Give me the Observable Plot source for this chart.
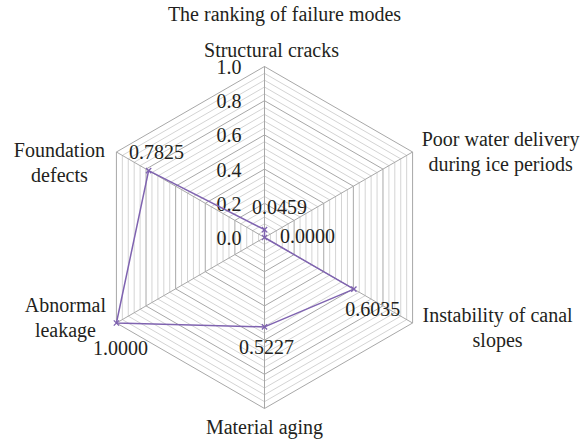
<!DOCTYPE html>
<html>
<head>
<meta charset="utf-8">
<script src="https://cdn.jsdelivr.net/npm/d3@7"></script>
<script src="https://cdn.jsdelivr.net/npm/@observablehq/plot@0.6"></script>
<style>
  html, body { margin: 0; padding: 0; background: #fff; }
  #chart svg { display: block; }
</style>
</head>
<body>
<div id="chart"></div>
<script>
// ---- data ----
const title = "The ranking of failure modes";
const categories = [
  "Structural cracks",
  "Poor water delivery\nduring ice periods",
  "Instability of canal\nslopes",
  "Material aging",
  "Abnormal\nleakage",
  "Foundation\ndefects"
];
const values = [0.0459, 0.0000, 0.6035, 0.5227, 1.0000, 0.7825];
const valueLabels = ["0.0459", "0.0000", "0.6035", "0.5227", "1.0000", "0.7825"];
const tickValues = [0, 0.2, 0.4, 0.6, 0.8, 1.0];
const tickLabels = ["0.0", "0.2", "0.4", "0.6", "0.8", "1.0"];
const gridStep = 0.04;

// ---- layout ----
const W = 584, H = 441;
const cx = 264, cy = 237, R = 171;
const n = categories.length;
const ang = i => Math.PI / 2 - i * 2 * Math.PI / n;
const px = (i, r) => r * Math.cos(ang(i));
const py = (i, r) => r * Math.sin(ang(i));

// grid rings
const levels = d3.range(1, Math.round(1 / gridStep) + 1).map(k => +(k * gridStep).toFixed(4));
const ringPts = [];
for (const lv of levels) {
  for (let i = 0; i <= n; i++) ringPts.push({lv, major: Math.abs(lv * 5 - Math.round(lv * 5)) < 1e-6, x: px(i % n, lv), y: py(i % n, lv)});
}
const spokes = categories.map((c, i) => ({x2: px(i, 1), y2: py(i, 1)}));
const series = values.map((v, i) => ({v, x: px(i, v), y: py(i, v), label: valueLabels[i]}));
const closed = [...series, series[0]];

// label offsets (pixels)
const catOff = [[7, -18], [88, -2], [85, 3], [0, 17], [-51, -7], [-57, 9]];
const valOff = [[15, -22], [43, -1], [19, 20], [2, 21], [4, 26], [8, -18]];
const ticks = tickValues.map((t, k) => ({x: 0, y: t, label: tickLabels[k]}));

const txt = "#231f20";
const purple = "#7f63b0";
const fs = 20;
const ff = "Liberation Serif";
const T = {fontSize: fs, fontFamily: ff, fill: txt};

const plot = Plot.plot({
  width: W, height: H,
  margin: 0,
  style: {background: "#fff", color: txt},
  x: {domain: [-cx / R, (W - cx) / R], axis: null},
  y: {domain: [-(H - cy) / R, cy / R], axis: null},
  marks: [
    Plot.line(ringPts.filter(d => !d.major), {x: "x", y: "y", z: "lv", stroke: "#d4d4d4", strokeWidth: 1}),
    Plot.line(ringPts.filter(d => d.major), {x: "x", y: "y", z: "lv", stroke: "#a8a8a8", strokeWidth: 1}),
    Plot.link(spokes, {x1: 0, y1: 0, x2: "x2", y2: "y2", stroke: "#a8a8a8", strokeWidth: 1}),
    Plot.text(ticks, {x: "x", y: "y", text: "label", textAnchor: "end", dx: -23, dy: 1, ...T}),
    Plot.line(closed, {x: "x", y: "y", stroke: purple, strokeWidth: 1.5}),
    Plot.dot(series, {x: "x", y: "y", symbol: "times", r: 2.5, stroke: purple, strokeWidth: 1.3}),
    ...series.map((d, i) => Plot.text([d], {x: "x", y: "y", text: "label", dx: valOff[i][0], dy: valOff[i][1], ...T})),
    ...categories.map((c, i) => Plot.text([c], {x: () => px(i, 1), y: () => py(i, 1), text: d => d, dx: catOff[i][0], dy: catOff[i][1], lineHeight: 1.25, ...T})),
    Plot.text([title], {x: () => (284 - cx) / R, y: () => (cy - 14) / R, text: d => d, ...T})
  ]
});
document.getElementById("chart").appendChild(plot);
</script>
</body>
</html>
